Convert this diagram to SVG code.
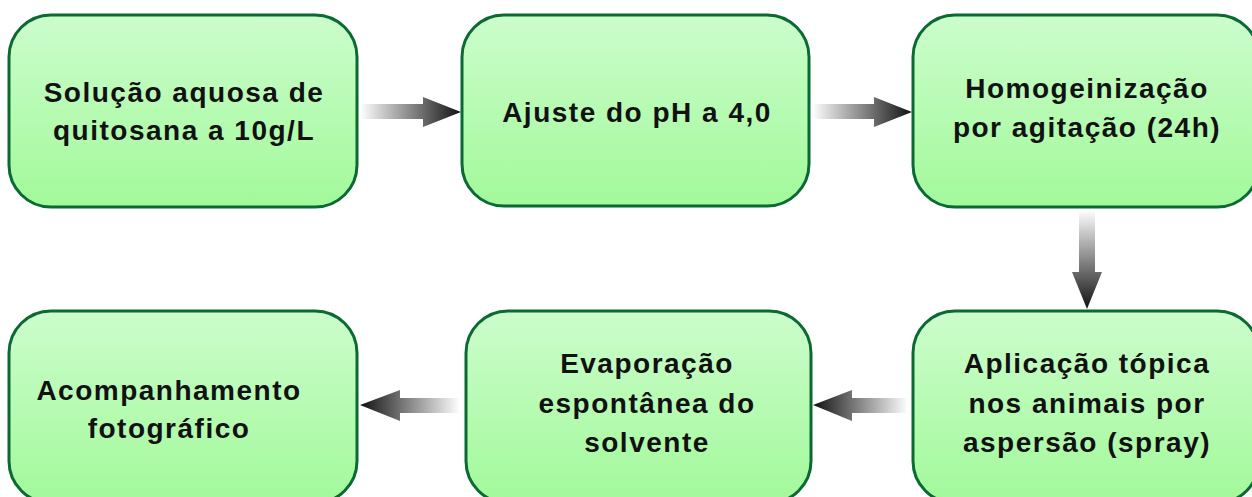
<svg xmlns="http://www.w3.org/2000/svg" width="1252" height="497" viewBox="0 0 1252 497">
  <defs>
    <linearGradient id="boxFill" x1="0" y1="0" x2="0" y2="1">
      <stop offset="0" stop-color="#ccfdcc"/>
      <stop offset="1" stop-color="#a2f99a"/>
    </linearGradient>
    <linearGradient id="arrR" x1="0" y1="0" x2="1" y2="0">
      <stop offset="0" stop-color="#ffffff"/>
      <stop offset="1" stop-color="#111111"/>
    </linearGradient>
    <linearGradient id="arrL" x1="1" y1="0" x2="0" y2="0">
      <stop offset="0" stop-color="#ffffff"/>
      <stop offset="1" stop-color="#111111"/>
    </linearGradient>
    <linearGradient id="arrD" x1="0" y1="0" x2="0" y2="1">
      <stop offset="0" stop-color="#ffffff"/>
      <stop offset="1" stop-color="#111111"/>
    </linearGradient>
  </defs>
  <style>
    .box { fill: url(#boxFill); stroke: #0b6a33; stroke-width: 3; }
    .lbl { font-family: "Liberation Sans", Arial, sans-serif; font-weight: bold; font-size: 28px; letter-spacing: 1.5px; fill: #111111; text-anchor: middle; }
  </style>

  <g id="connectors">
    <polygon fill="url(#arrR)" points="360,104 423,104 423,97 461,112 423,127 423,119 360,119"/>
    <polygon fill="url(#arrR)" points="812,104 874,104 874,97 912,112 874,127 874,119 812,119"/>
    <polygon fill="url(#arrD)" points="1079,210 1095,210 1095,272 1102,272 1087,309 1072,272 1079,272"/>
    <polygon fill="url(#arrL)" points="908,398 852,398 852,390 813,405 852,421 852,413 908,413"/>
    <polygon fill="url(#arrL)" points="460,398 400,398 400,390 360,405 400,421 400,413 460,413"/>
  </g>

  <g id="n1">
    <rect class="box" x="9" y="15" width="348" height="192" rx="42" ry="42"/>
    <text class="lbl" x="184" y="102">Solução aquosa de</text>
    <text class="lbl" x="184" y="140">quitosana a 10g/L</text>
  </g>
  <g id="n2">
    <rect class="box" x="462" y="15" width="347" height="191" rx="42" ry="42"/>
    <text class="lbl" x="637" y="122">Ajuste do pH a 4,0</text>
  </g>
  <g id="n3">
    <rect class="box" x="913" y="15" width="346" height="192" rx="42" ry="42"/>
    <text class="lbl" x="1087" y="98">Homogeinização</text>
    <text class="lbl" x="1087" y="137">por agitação (24h)</text>
  </g>
  <g id="n4">
    <rect class="box" x="913" y="311" width="346" height="192" rx="42" ry="42"/>
    <text class="lbl" x="1087" y="373">Aplicação tópica</text>
    <text class="lbl" x="1087" y="413">nos animais por</text>
    <text class="lbl" x="1087" y="452">aspersão (spray)</text>
  </g>
  <g id="n5">
    <rect class="box" x="466" y="311" width="345" height="192" rx="42" ry="42"/>
    <text class="lbl" x="647" y="373">Evaporação</text>
    <text class="lbl" x="647" y="413">espontânea do</text>
    <text class="lbl" x="647" y="452">solvente</text>
  </g>
  <g id="n6">
    <rect class="box" x="9" y="311" width="348" height="192" rx="42" ry="42"/>
    <text class="lbl" x="169" y="400">Acompanhamento</text>
    <text class="lbl" x="169" y="438">fotográfico</text>
  </g>
</svg>
